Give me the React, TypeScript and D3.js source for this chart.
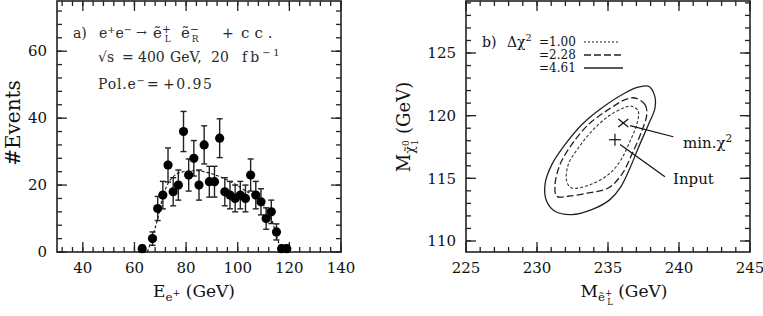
import React, { useEffect, useRef } from 'react';
import * as d3 from 'd3';

// a) positron energy spectrum, 2 GeV bins
const binEnergy = [63, 67, 69, 71, 73, 75, 77, 79, 81, 83, 85, 87, 89, 91, 93, 95, 97, 99, 101, 103, 105, 107, 109, 111, 113, 115, 117, 119];
const binEvents = [1, 4, 13, 17, 26, 18, 20, 36, 23, 28, 20, 32, 21, 21, 34, 18, 17, 16, 17, 16, 23, 17, 15, 10, 12, 6, 1, 1];
const binErrors = [1, 2, 3.6, 4.1, 5.1, 4.2, 4.5, 6, 4.8, 5.3, 4.5, 5.7, 4.6, 4.6, 5.8, 4.2, 4.1, 4, 4.1, 4, 4.8, 4.1, 3.9, 3.2, 3.5, 2.4, 1, 1];

// fitted spectrum (dashed)
const fitEnergy = [65, 67, 69, 71, 73, 75, 78, 83, 88, 93, 98, 103, 107, 110, 113, 115, 117, 118];
const fitEvents = [0, 4.5, 10, 16.5, 20.5, 22.5, 23.8, 24.3, 23.8, 22.5, 20.7, 18.3, 16.3, 14, 10, 5, 0.5, 0];

const aTicksX = [40, 60, 80, 100, 120, 140];
const aTicksY = [0, 20, 40, 60];

// b) chi2 contours in the (M_eL, M_chi) plane
const contour461: [number, number][] = [
  [237.84, 122.35], [238.26, 121.68], [238.31, 120.61], [237.84, 119.28], [237.13, 117.42],
  [236.55, 115.83], [235.85, 114.23], [235.14, 113.3], [233.85, 112.5], [232.44, 112.1],
  [231.27, 112.37], [230.68, 113.17], [230.56, 114.49], [231.04, 116.09], [231.97, 117.69],
  [233.15, 119.28], [234.56, 120.61], [236.2, 121.81], [237.13, 122.27],
];
const contour228: [number, number][] = [
  [236.9, 121.41], [237.61, 120.88], [237.73, 120.08], [237.37, 118.75], [236.67, 116.89],
  [235.96, 115.29], [235.02, 114.23], [233.61, 113.83], [232.2, 113.57], [231.39, 113.57],
  [231.27, 114.49], [231.62, 116.09], [232.44, 117.69], [233.61, 119.28], [235.02, 120.48],
  [236.2, 121.28],
];
const contour100: [number, number][] = [
  [236.67, 120.75], [237.13, 120.35], [237.02, 119.28], [236.55, 117.96], [235.85, 116.36],
  [235.02, 115.29], [233.73, 114.49], [232.44, 114.23], [232.09, 114.76], [232.2, 116.09],
  [232.91, 117.42], [233.85, 118.75], [235.02, 119.95], [236.08, 120.61],
];
const minChi2: [number, number] = [236.08, 119.42];
const inputPoint: [number, number] = [235.49, 118.08];

const bTicksX = [225, 230, 235, 240, 245];
const bTicksY = [110, 115, 120, 125];

const FONT = '"DejaVu Serif", serif';

type Part = { t: string; shift?: number; size?: number; dx?: number };

// text with super/subscripts as tspans
function richText(g, x, y, parts: Part[], fontSize, anchor = 'start', transform = null, fill = '#111') {
  const text = g.append('text')
    .attr('x', x)
    .attr('y', y)
    .attr('font-family', FONT)
    .attr('font-size', fontSize)
    .attr('text-anchor', anchor)
    .attr('fill', fill);
  if (transform) text.attr('transform', transform);
  parts.forEach((p) => {
    const ts = text.append('tspan')
      .attr('font-size', fontSize * (p.size || 1))
      .text(p.t);
    if (p.shift) ts.attr('baseline-shift', p.shift);
    if (p.dx) ts.attr('dx', p.dx);
  });
  return text;
}

function drawFrame(g, x, y, majorX, minorX, majorY, minorY) {
  const [x0, x1] = x.range();
  const [y0, y1] = y.range();
  const ticks = g.append('g').attr('stroke', '#222').attr('stroke-width', 1.3);
  const tick = (v, len, horizontal) => {
    if (horizontal) {
      ticks.append('line').attr('x1', x(v)).attr('x2', x(v)).attr('y1', y0).attr('y2', y0 - len);
      ticks.append('line').attr('x1', x(v)).attr('x2', x(v)).attr('y1', y1).attr('y2', y1 + len);
    } else {
      ticks.append('line').attr('x1', x0).attr('x2', x0 + len).attr('y1', y(v)).attr('y2', y(v));
      ticks.append('line').attr('x1', x1).attr('x2', x1 - len).attr('y1', y(v)).attr('y2', y(v));
    }
  };
  minorX.forEach((v) => tick(v, 5, true));
  majorX.forEach((v) => tick(v, 10, true));
  minorY.forEach((v) => tick(v, 5, false));
  majorY.forEach((v) => tick(v, 10, false));

  g.append('rect')
    .attr('x', x0)
    .attr('y', y1)
    .attr('width', x1 - x0)
    .attr('height', y0 - y1)
    .attr('fill', 'none')
    .attr('stroke', '#222')
    .attr('stroke-width', 1.6);

  majorX.forEach((v) => {
    g.append('text')
      .attr('x', x(v))
      .attr('y', 273)
      .attr('text-anchor', 'middle')
      .attr('font-family', FONT)
      .attr('font-size', 15)
      .attr('fill', '#111')
      .text(v);
  });
  majorY.forEach((v) => {
    g.append('text')
      .attr('x', x0 - 10)
      .attr('y', y(v))
      .attr('dy', '0.35em')
      .attr('text-anchor', 'end')
      .attr('font-family', FONT)
      .attr('font-size', 15)
      .attr('fill', '#111')
      .text(v);
  });
}

export default function App() {
  const ref = useRef<SVGSVGElement>(null);

  useEffect(() => {
    const svg = d3.select(ref.current);
    svg.selectAll('*').remove();

    // ---- panel a) ----
    const xa = d3.scaleLinear().domain([30, 140]).range([57, 341]);
    const ya = d3.scaleLinear().domain([0, 75]).range([252, 1]);
    const ga = svg.append('g');
    drawFrame(ga, xa, ya, aTicksX, d3.range(32, 141, 4), aTicksY, d3.range(0, 75, 4));

    const fit = d3.line<number>()
      .x((d, i) => xa(fitEnergy[i]))
      .y((d) => ya(d))
      .curve(d3.curveMonotoneX);
    ga.append('path')
      .attr('d', fit(fitEvents))
      .attr('fill', 'none')
      .attr('stroke', '#111')
      .attr('stroke-width', 1.1)
      .attr('stroke-dasharray', '3,2');

    const bars = ga.append('g').attr('stroke', '#222').attr('stroke-width', 1.4);
    binEnergy.forEach((e, i) => {
      const cx = xa(e);
      const top = ya(binEvents[i] + binErrors[i]);
      const bot = ya(Math.max(0, binEvents[i] - binErrors[i]));
      bars.append('line').attr('x1', cx).attr('x2', cx).attr('y1', top).attr('y2', bot);
      bars.append('line').attr('x1', cx - 3).attr('x2', cx + 3).attr('y1', top).attr('y2', top);
      bars.append('line').attr('x1', cx - 3).attr('x2', cx + 3).attr('y1', bot).attr('y2', bot);
    });
    ga.append('g')
      .selectAll('circle')
      .data(binEnergy)
      .enter()
      .append('circle')
      .attr('cx', (d) => xa(d))
      .attr('cy', (d, i) => ya(binEvents[i]))
      .attr('r', 4.6)
      .attr('fill', '#000');

    // process / conditions text, spread out like the original
    const ann = '#2a2a2a';
    richText(ga, 73, 38, [{ t: 'a)' }], 14, 'start', null, ann);
    richText(ga, 99, 38, [
      { t: 'e' }, { t: '+', shift: 5, size: 0.7 }, { t: 'e' }, { t: '−', shift: 5, size: 0.7 },
    ], 14, 'start', null, ann);
    richText(ga, 136, 37, [{ t: '→' }], 13, 'start', null, ann);
    richText(ga, 153, 38, [
      { t: 'ẽ' }, { t: '+', shift: 5, size: 0.7 }, { t: 'L', shift: -4, size: 0.6, dx: -6 },
    ], 15, 'start', null, ann);
    richText(ga, 181, 38, [
      { t: 'ẽ' }, { t: '−', shift: 5, size: 0.7 }, { t: 'R', shift: -4, size: 0.6, dx: -7 },
    ], 15, 'start', null, ann);
    richText(ga, 222, 38, [{ t: '+' }], 14, 'start', null, ann);
    richText(ga, 241, 38, [{ t: 'cc.' }], 15, 'start', null, ann).attr('letter-spacing', 5);

    richText(ga, 98, 62, [{ t: '√s' }], 14, 'start', null, ann);
    richText(ga, 122, 62, [{ t: '=' }], 14, 'start', null, ann);
    richText(ga, 138, 62, [{ t: '400' }], 14, 'start', null, ann);
    richText(ga, 170, 62, [{ t: 'GeV,' }], 14, 'start', null, ann);
    richText(ga, 211, 62, [{ t: '20' }], 14, 'start', null, ann);
    richText(ga, 242, 62, [{ t: 'fb' }, { t: '−1', shift: 6, size: 0.7 }], 14, 'start', null, ann)
      .attr('letter-spacing', 3);

    richText(ga, 98, 89, [{ t: 'Pol.e' }, { t: '−', shift: 5, size: 0.7 }], 14, 'start', null, ann)
      .attr('letter-spacing', 0.8);
    richText(ga, 147, 89, [{ t: '=' }], 14, 'start', null, ann);
    richText(ga, 163, 89, [{ t: '+0.95' }], 14, 'start', null, ann).attr('letter-spacing', 1.5);

    richText(ga, 194, 297, [
      { t: 'E' }, { t: 'e', shift: -4, size: 0.7 }, { t: '+', shift: 1, size: 0.55 }, { t: ' (GeV)' },
    ], 17, 'middle');
    richText(ga, 0, 0, [{ t: '#Events' }], 20, 'middle', 'translate(20,123) rotate(-90)');

    // ---- panel b) ----
    const xb = d3.scaleLinear().domain([225, 245]).range([466, 750]);
    const yb = d3.scaleLinear().domain([109.12, 129.15]).range([252, 1]);
    const gb = svg.append('g');
    drawFrame(gb, xb, yb, bTicksX, d3.range(225, 246, 1), bTicksY, d3.range(110, 130, 1));

    const closed = d3.line<[number, number]>()
      .x((d) => xb(d[0]))
      .y((d) => yb(d[1]))
      .curve(d3.curveCatmullRomClosed);
    gb.append('path').attr('d', closed(contour461))
      .attr('fill', 'none').attr('stroke', '#222').attr('stroke-width', 1.3);
    gb.append('path').attr('d', closed(contour228))
      .attr('fill', 'none').attr('stroke', '#222').attr('stroke-width', 1.3)
      .attr('stroke-dasharray', '7,3');
    gb.append('path').attr('d', closed(contour100))
      .attr('fill', 'none').attr('stroke', '#333').attr('stroke-width', 1.1)
      .attr('stroke-dasharray', '3,2');

    const marks = gb.append('g').attr('stroke', '#111').attr('stroke-width', 1.2);
    const [mx, my] = [xb(minChi2[0]), yb(minChi2[1])];
    marks.append('line').attr('x1', mx - 5).attr('x2', mx + 5).attr('y1', my - 4).attr('y2', my + 4);
    marks.append('line').attr('x1', mx - 5).attr('x2', mx + 5).attr('y1', my + 4).attr('y2', my - 4);
    const [ix, iy] = [xb(inputPoint[0]), yb(inputPoint[1])];
    marks.append('line').attr('x1', ix - 6).attr('x2', ix + 6).attr('y1', iy).attr('y2', iy);
    marks.append('line').attr('x1', ix).attr('x2', ix).attr('y1', iy - 6).attr('y2', iy + 6);

    marks.append('line')
      .attr('x1', xb(236.55)).attr('y1', yb(119.2))
      .attr('x2', xb(239.6)).attr('y2', yb(118.32));
    marks.append('line')
      .attr('x1', xb(235.85)).attr('y1', yb(117.69))
      .attr('x2', xb(239.01)).attr('y2', yb(115.13));

    richText(gb, 683, 148, [{ t: 'min.χ' }, { t: '2', shift: 6, size: 0.7 }], 15);
    richText(gb, 673, 184, [{ t: 'Input' }], 15);

    // legend
    richText(gb, 482, 47, [{ t: 'b)' }], 14);
    richText(gb, 507, 47, [{ t: 'Δχ' }, { t: '2', shift: 6, size: 0.7 }], 14);
    richText(gb, 539, 46, [{ t: '=1.00' }], 12);
    richText(gb, 539, 59, [{ t: '=2.28' }], 12);
    richText(gb, 539, 72, [{ t: '=4.61' }], 12);
    const leg = gb.append('g').attr('fill', 'none').attr('stroke', '#222');
    leg.append('line').attr('x1', 584).attr('x2', 620).attr('y1', 42).attr('y2', 42)
      .attr('stroke-width', 1).attr('stroke-dasharray', '2,2');
    leg.append('line').attr('x1', 584).attr('x2', 623).attr('y1', 55).attr('y2', 55)
      .attr('stroke-width', 1.3).attr('stroke-dasharray', '7,3');
    leg.append('line').attr('x1', 584).attr('x2', 623).attr('y1', 68).attr('y2', 68)
      .attr('stroke-width', 1.3);

    richText(gb, 624, 297, [
      { t: 'M' }, { t: 'ẽ', shift: -4, size: 0.7 }, { t: '+', shift: 1, size: 0.5 },
      { t: 'L', shift: -8, size: 0.5, dx: -5 }, { t: ' (GeV)' },
    ], 17, 'middle');
    richText(gb, 0, 0, [
      { t: 'M' }, { t: 'χ̃', shift: -4, size: 0.7 }, { t: '0', shift: 1, size: 0.5 },
      { t: '1', shift: -8, size: 0.5, dx: -5 }, { t: ' (GeV)' },
    ], 18, 'middle', 'translate(410,127) rotate(-90)');
  }, []);

  return (
    <svg
      ref={ref}
      width={763}
      height={316}
      style={{ position: 'absolute', left: 0, top: 0, background: '#fff' }}
    />
  );
}
